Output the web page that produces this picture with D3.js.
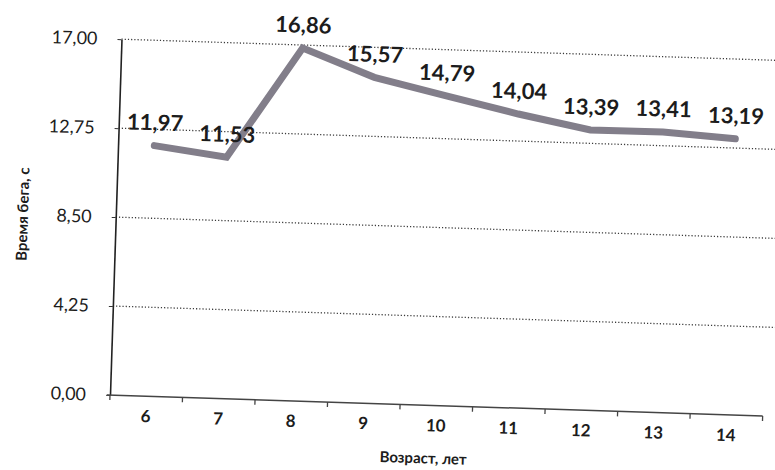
<!DOCTYPE html>
<html>
<head>
<meta charset="utf-8">
<script src="https://cdn.jsdelivr.net/npm/d3@7"></script>
<style>
  html, body { margin: 0; padding: 0; background: #fff; }
  svg { display: block; }
  text { font-family: Lato, "Open Sans", sans-serif; fill: #1c1c1c; }
</style>
</head>
<body>
<svg id="chart" width="775" height="470"></svg>
<script>
// Running time by age
const ages = ["6", "7", "8", "9", "10", "11", "12", "13", "14"];
const runTimes = [11.97, 11.53, 16.86, 15.57, 14.79, 14.04, 13.39, 13.41, 13.19];
const yTicks = [0, 4.25, 8.5, 12.75, 17];
const yTitle = "Время бега, с";
const xTitle = "Возраст, лет";

const W = 775, H = 470;
const plot = { left: 110, top: 39, right: 763, bottom: 395 };

const svg = d3.select("#chart");
// the sheet sits slightly turned on the page
const g = svg.append("g")
  .attr("transform", `rotate(1.85, ${plot.left}, ${plot.bottom})`);

const x = d3.scaleBand().domain(ages).range([plot.left, plot.right]).padding(0);
const y = d3.scaleLinear().domain([0, 17]).range([plot.bottom, plot.top]);
const fmt = d => d.toFixed(2).replace(".", ",");
const cx = d => x(d) + x.bandwidth() / 2;

// dotted horizontal gridlines
g.append("g").selectAll("line")
  .data(yTicks.filter(v => v > 0))
  .join("line")
  .attr("x1", plot.left).attr("x2", plot.right + 10)
  .attr("y1", d => y(d)).attr("y2", d => y(d))
  .attr("stroke", "#3a3a3a")
  .attr("stroke-width", 1.3)
  .attr("stroke-dasharray", "1.2,2");

// value axis
const yAxis = g.append("g")
  .attr("transform", `translate(${plot.left},0)`)
  .call(d3.axisLeft(y).tickValues(yTicks).tickFormat(fmt).tickSizeInner(4).tickSizeOuter(0).tickPadding(20));
yAxis.select(".domain").attr("stroke", "#222").attr("stroke-width", 1.6);
yAxis.selectAll(".tick line").attr("stroke", "#333");
yAxis.selectAll(".tick text")
  .style("font-size", "18px").style("font-family", "Lato, sans-serif").attr("fill", "#1c1c1c");

// category axis
const xAxis = g.append("g")
  .attr("transform", `translate(0,${plot.bottom})`)
  .call(d3.axisBottom(x).tickSize(0).tickPadding(14));
xAxis.select(".domain").remove();
xAxis.selectAll(".tick text")
  .style("font-size", "17px").style("font-weight", "bold").style("font-family", "Lato, sans-serif").attr("fill", "#1c1c1c");

g.append("line")
  .attr("x1", plot.left - 3).attr("x2", plot.right)
  .attr("y1", plot.bottom).attr("y2", plot.bottom)
  .attr("stroke", "#444").attr("stroke-width", 1.5);

// tick marks between categories
const bounds = ages.map(d => x(d)).concat([plot.right]);
g.append("g").selectAll("line")
  .data(bounds)
  .join("line")
  .attr("x1", d => d).attr("x2", d => d)
  .attr("y1", plot.bottom).attr("y2", plot.bottom + 5)
  .attr("stroke", "#444").attr("stroke-width", 1.3);

// the series line
const line = d3.line().x((d, i) => cx(ages[i])).y(d => y(d));
g.append("path")
  .datum(runTimes)
  .attr("d", line)
  .attr("fill", "none")
  .attr("stroke", "#827e8a")
  .attr("stroke-width", 7)
  .attr("stroke-linejoin", "miter")
  .attr("stroke-linecap", "round");

// value labels above the points
g.append("g").selectAll("text")
  .data(runTimes)
  .join("text")
  .attr("x", (d, i) => cx(ages[i]))
  .attr("y", d => y(d) - 23)
  .attr("dy", "0.35em")
  .attr("text-anchor", "middle")
  .style("font-size", "22px")
  .style("font-weight", "bold")
  .text(fmt);

// axis titles
g.append("text")
  .attr("transform", "translate(17,217) rotate(-90)")
  .attr("text-anchor", "middle")
  .attr("dy", "0.35em")
  .style("font-size", "15px")
  .style("font-weight", "bold")
  .text(yTitle);

g.append("text")
  .attr("x", 425).attr("y", 448)
  .attr("text-anchor", "middle")
  .attr("dy", "0.35em")
  .style("font-size", "15px")
  .style("font-weight", "bold")
  .text(xTitle);
</script>
</body>
</html>
